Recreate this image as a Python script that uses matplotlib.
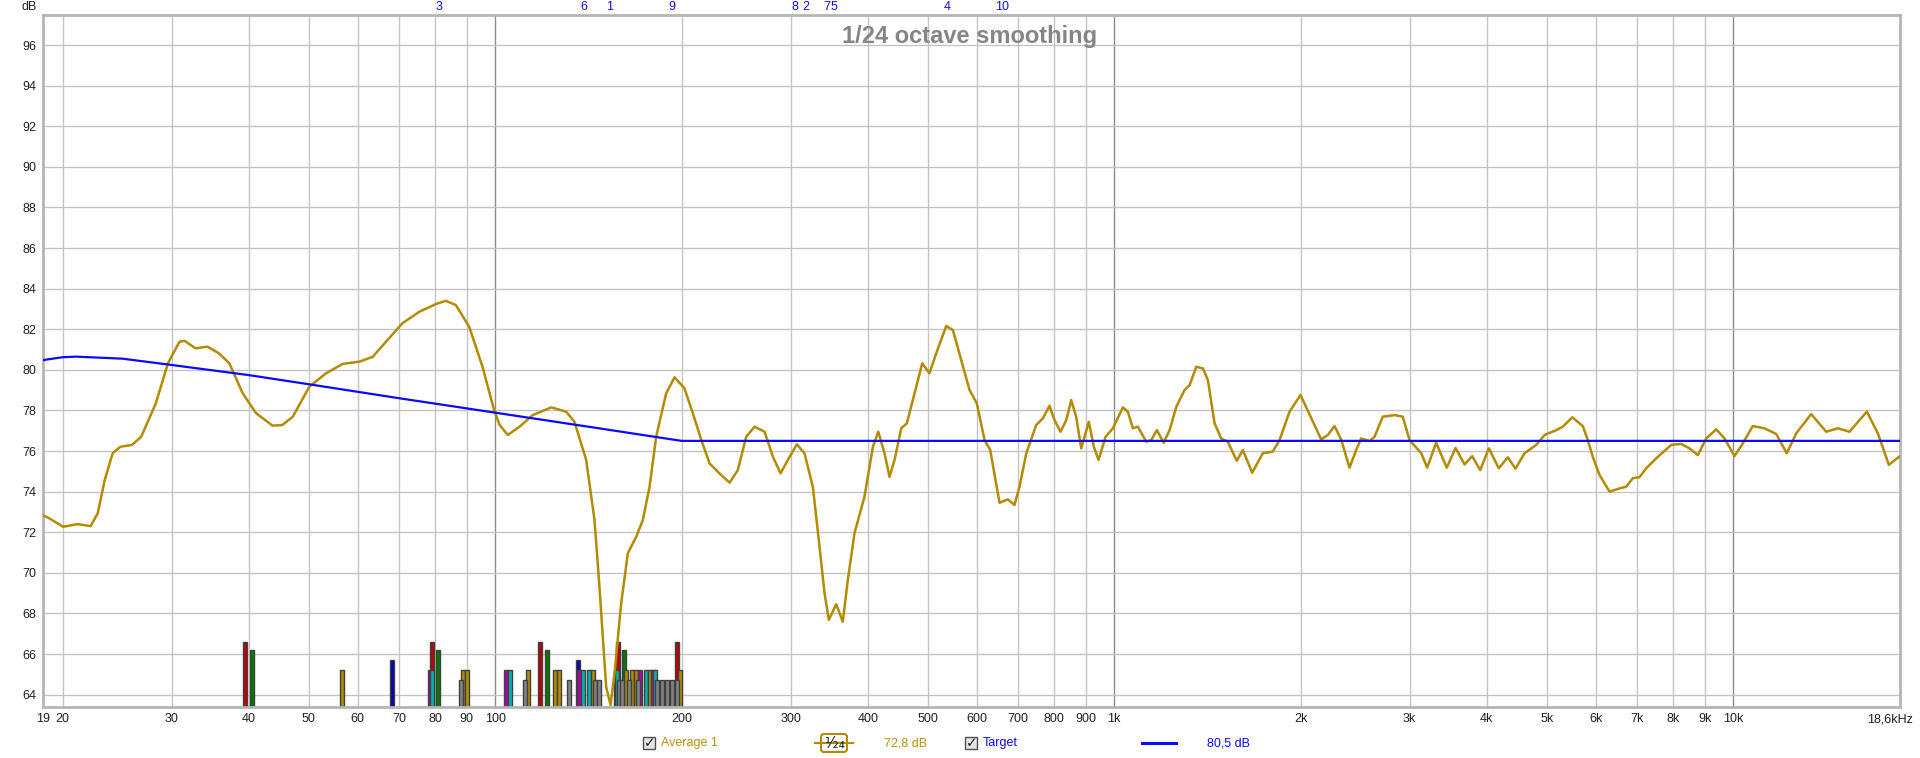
import matplotlib
matplotlib.use('Agg')
import matplotlib.pyplot as plt
from matplotlib.patches import Rectangle, FancyBboxPatch
from matplotlib.ticker import NullLocator

plt.rcParams['font.family'] = ['Liberation Sans Narrow', 'Liberation Sans', 'DejaVu Sans']

# measured response, 1/24 octave smoothing (Hz, dB)
freq = [18.6, 19.0, 20.05, 21.15, 22.2, 22.8, 23.4, 24.1, 24.8, 25.9,
        26.8, 28.3, 29.6, 30.9, 31.5, 32.8, 34.3, 35.8, 37.2, 39.1,
        41.1, 43.7, 45.3, 47.1, 50.1, 53.3, 56.7, 60.3, 63.4, 66.6,
        70.8, 75.4, 80.2, 83.2, 86.4, 90.8, 95.4, 99.6, 101.6, 104.8,
        109.5, 115.0, 123.2, 130.2, 134.3, 140.3, 144.7, 147.4, 151.1, 153.6,
        155.9, 159.8, 163.8, 169.0, 173.2, 177.6, 182.0, 188.9, 194.9, 202.2,
        208.6, 215.3, 222.0, 230.3, 239.2, 246.6, 254.4, 262.4, 272.4, 281.0,
        289.1, 297.0, 307.2, 316.0, 326.0, 334.2, 340.5, 346.0, 355.6, 364.4,
        371.3, 380.6, 395.0, 407.6, 415.8, 425.6, 433.6, 441.8, 452.9, 462.4,
        475.8, 489.7, 503.0, 515.8, 535.4, 548.8, 566.2, 584.0, 600.0, 617.4,
        630.6, 652.8, 673.4, 690.2, 703.2, 721.2, 748.2, 767.0, 786.2, 801.0,
        819.2, 836.6, 852.4, 868.2, 884.6, 910.0, 927.2, 943.6, 968.4, 995.2,
        1033, 1052, 1072, 1092, 1127, 1148, 1172, 1202, 1229, 1260,
        1299, 1324, 1357, 1391, 1417, 1453, 1489, 1526, 1578, 1614,
        1671, 1738, 1804, 1850, 1920, 2000, 2082, 2160, 2214, 2270,
        2328, 2400, 2460, 2506, 2586, 2634, 2716, 2838, 2926, 3000,
        3134, 3204, 3312, 3446, 3560, 3682, 3788, 3902, 4030, 4182,
        4324, 4450, 4602, 4806, 4958, 5178, 5306, 5496, 5716, 5822,
        5932, 6082, 6314, 6552, 6718, 6884, 7058, 7236, 7510, 7940,
        8242, 8500, 8768, 9046, 9390, 9684, 10050, 10366, 10758, 11236,
        11736, 12208, 12642, 13366, 14136, 14758, 15414, 16442, 17130, 17844,
        18600]
spl = [72.83, 72.7, 72.27, 72.4, 72.3, 72.93, 74.57, 75.89, 76.21, 76.3,
       76.7, 78.35, 80.32, 81.38, 81.43, 81.06, 81.14, 80.81, 80.32, 78.84,
       77.86, 77.25, 77.28, 77.69, 79.17, 79.83, 80.29, 80.40, 80.64, 81.38,
       82.29, 82.86, 83.24, 83.40, 83.19, 82.12, 80.15, 78.02, 77.3, 76.79,
       77.2, 77.77, 78.15, 77.94, 77.44, 75.56, 72.6, 69.3, 64.39, 63.49,
       65.05, 68.5, 70.96, 71.78, 72.6, 74.24, 76.7, 78.84, 79.63, 79.09,
       77.86, 76.54, 75.39, 74.9, 74.44, 75.06, 76.7, 77.2, 76.95, 75.72,
       74.9, 75.56, 76.33, 75.89, 74.24, 71.29, 68.99, 67.68, 68.45, 67.59,
       69.65, 71.95, 73.75, 76.21, 76.95, 75.89, 74.73, 75.56, 77.12, 77.36,
       78.84, 80.32, 79.83, 80.81, 82.16, 81.96, 80.48, 79.0, 78.35, 76.54,
       76.05, 73.45, 73.62, 73.34, 74.24, 75.89, 77.28, 77.61, 78.23, 77.52,
       76.95, 77.52, 78.51, 77.69, 76.13, 77.44, 76.21, 75.56, 76.7, 77.12,
       78.15, 77.94, 77.12, 77.2, 76.46, 76.54, 77.03, 76.41, 77.03, 78.18,
       79.0, 79.25, 80.15, 80.07, 79.5, 77.36, 76.62, 76.46, 75.52, 76.05,
       74.93, 75.89, 75.97, 76.54, 77.94, 78.76, 77.61, 76.57, 76.79, 77.23,
       76.54, 75.18, 76.05, 76.62, 76.49, 76.7, 77.69, 77.77, 77.69, 76.54,
       75.89, 75.18, 76.41, 75.18, 76.15, 75.34, 75.75, 75.06, 76.13, 75.15,
       75.69, 75.13, 75.89, 76.3, 76.79, 77.03, 77.2, 77.66, 77.23, 76.54,
       75.72, 74.82, 74.0, 74.16, 74.24, 74.66, 74.71, 75.15, 75.64, 76.3,
       76.35, 76.13, 75.8, 76.62, 77.07, 76.62, 75.75, 76.38, 77.23, 77.12,
       76.84, 75.89, 76.87, 77.82, 76.95, 77.12, 76.95, 77.94, 76.87, 75.32,
       75.75]

# target curve
target_freq = [18.6, 20, 21, 25, 30, 40, 50, 70, 100, 150, 200, 18600]
target_spl = [80.48, 80.62, 80.65, 80.55, 80.24, 79.74, 79.29, 78.6, 77.89, 77.08, 76.5, 76.5]

# filter / mode markers along the bottom
mode_freq = [39.4, 40.4, 56.5, 68.1, 78.4, 79.0, 79.2, 80.8, 88.1, 88.7,
             89.9, 104.2, 105.8, 111.7, 113.1, 118.1, 121.2, 124.8, 127.0, 131.5,
             136.0, 136.7, 138.7, 141.7, 144.0, 144.7, 147.1, 156.6, 157.7, 157.2,
             158.5, 160.5, 161.4, 162.8, 164.5, 166.3, 168.8, 170.0, 171.5, 175.4,
             177.6, 179.8, 181.4, 182.8, 186.3, 189.7, 192.9, 196.5, 196.8, 198.7]
mode_type = ['r', 'g', 'y', 'b', 'm', 'r', 'c', 'g', 'k', 'y',
             'y', 'm', 'c', 'k', 'y', 'r', 'g', 'y', 'y', 'k',
             'b', 'm', 'c', 'c', 'y', 'k', 'k', 'm', 'r', 'c',
             'k', 'k', 'g', 'y', 'k', 'y', 'y', 'k', 'm', 'c',
             'y', 'm', 'c', 'k', 'k', 'k', 'k', 'r', 'k', 'y']
type_level = {'r': 66.6, 'g': 66.2, 'b': 65.7, 'y': 65.2, 'm': 65.2, 'c': 65.2, 'k': 64.7}

# numbered markers on the top edge
peak_freq = [81, 139, 153, 193, 305, 317, 344, 352, 538, 660]
peak_label = ['3', '6', '1', '9', '8', '2', '7', '5', '4', '10']

tick_freq = [18.6, 20, 30, 40, 50, 60, 70, 80, 90, 100, 200, 300, 400, 500, 600, 700,
             800, 900, 1000, 2000, 3000, 4000, 5000, 6000, 7000, 8000, 9000, 10000]
tick_label = ['19', '20', '30', '40', '50', '60', '70', '80', '90', '100', '200', '300',
              '400', '500', '600', '700', '800', '900', '1k', '2k', '3k', '4k', '5k',
              '6k', '7k', '8k', '9k', '10k']

gold = '#b38b00'
blue = '#0a0aff'
bar_colors = {'r': '#c00000', 'g': '#007a00', 'b': '#0000b4', 'y': '#b08c00',
              'm': '#b400b4', 'c': '#00b4b4', 'k': '#828282'}

fig = plt.figure(figsize=(19.2, 7.58), dpi=100)
ax = fig.add_axes([43 / 1920, 51 / 758, 1857 / 1920, 692 / 758])
ax.set_xscale('log')
ax.set_xlim(18.6, 18600)
ax.set_ylim(63.39, 97.48)

# grid
ax.set_yticks(range(64, 97, 2))
ax.yaxis.grid(True, color='#c4c4c4', lw=1)
ax.set_axisbelow(True)
for f in tick_freq[1:]:
    dark = f in (100, 1000, 10000)
    ax.axvline(f, color='#8c8c8c' if dark else '#c4c4c4', lw=1, zorder=0)

ax.set_xticks(tick_freq)
ax.set_xticklabels(tick_label)
ax.xaxis.set_minor_locator(NullLocator())
ax.tick_params(axis='both', length=0, labelsize=9, colors='#202020')
ax.tick_params(axis='x', pad=4)
ax.tick_params(axis='y', pad=5)
for s in ax.spines.values():
    s.set_color('#b4b4b4')
    s.set_linewidth(2)

# mode bars, tallest first so shorter ones sit in front
k = 10 ** (2 / 619)
order = sorted(range(len(mode_freq)), key=lambda i: -type_level[mode_type[i]])
for i in order:
    f = mode_freq[i]
    t = mode_type[i]
    ax.bar(f / k, type_level[t] - 60, width=f * k - f / k, bottom=60, align='edge',
           color=bar_colors[t], edgecolor='#404040', linewidth=1, zorder=2)

ax.plot(freq, spl, color=gold, lw=1.8, zorder=3, solid_joinstyle='round', solid_capstyle='round')
ax.plot(target_freq, target_spl, color=blue, lw=1.6, zorder=4, solid_joinstyle='round')

for f, lbl in zip(peak_freq, peak_label):
    ax.annotate(lbl, xy=(f, 1), xycoords=('data', 'axes fraction'), xytext=(0, 6),
                textcoords='offset points', ha='center', va='center', fontsize=9, color='#1010e0')

fig.text(37 / 1920, 1 - 7 / 758, 'dB', ha='right', va='center', fontsize=9, color='#202020')
fig.text(970 / 1920, 1 - 36 / 758, '1/24 octave smoothing', ha='center', va='center',
         fontsize=17, fontweight='bold', color='#858585', family=['Liberation Sans', 'DejaVu Sans'])
fig.text(1913 / 1920, 1 - 719 / 758, '18,6kHz', ha='right', va='center', fontsize=9, color='#202020')

# legend row under the axis
lg = fig.add_axes([0, 0, 1, 1])
lg.set_xlim(0, 1920)
lg.set_ylim(758, 0)
lg.axis('off')
for x0 in (643, 965):
    lg.add_patch(Rectangle((x0, 737), 12, 12, facecolor='#e4e4e4', edgecolor='#505050', lw=1))
    lg.text(x0 + 6.5, 743, '\u2713', ha='center', va='center', fontsize=10, fontweight='bold',
            color='#202020', family='DejaVu Sans')
lg.text(661, 743, 'Average 1', ha='left', va='center', fontsize=9, color='#b8930a')
lg.plot([815, 853], [743, 743], color=gold, lw=1.5)
lg.add_patch(FancyBboxPatch((821, 734), 26, 18, boxstyle='round,pad=0,rounding_size=3',
                            facecolor='white', edgecolor=gold, lw=1.5))
lg.text(834, 743, '\u00b9\u2044\u2082\u2084', ha='center', va='center', fontsize=11,
        color='#202020', family='DejaVu Sans')
lg.text(884, 743, '72,8 dB', ha='left', va='center', fontsize=9, color='#b8930a')
lg.text(983, 743, 'Target', ha='left', va='center', fontsize=9, color=blue)
lg.plot([1142, 1176], [743, 743], color=blue, lw=2.2)
lg.text(1207, 743, '80,5 dB', ha='left', va='center', fontsize=9, color=blue)

fig.savefig('out.png', dpi=100, facecolor='white')
